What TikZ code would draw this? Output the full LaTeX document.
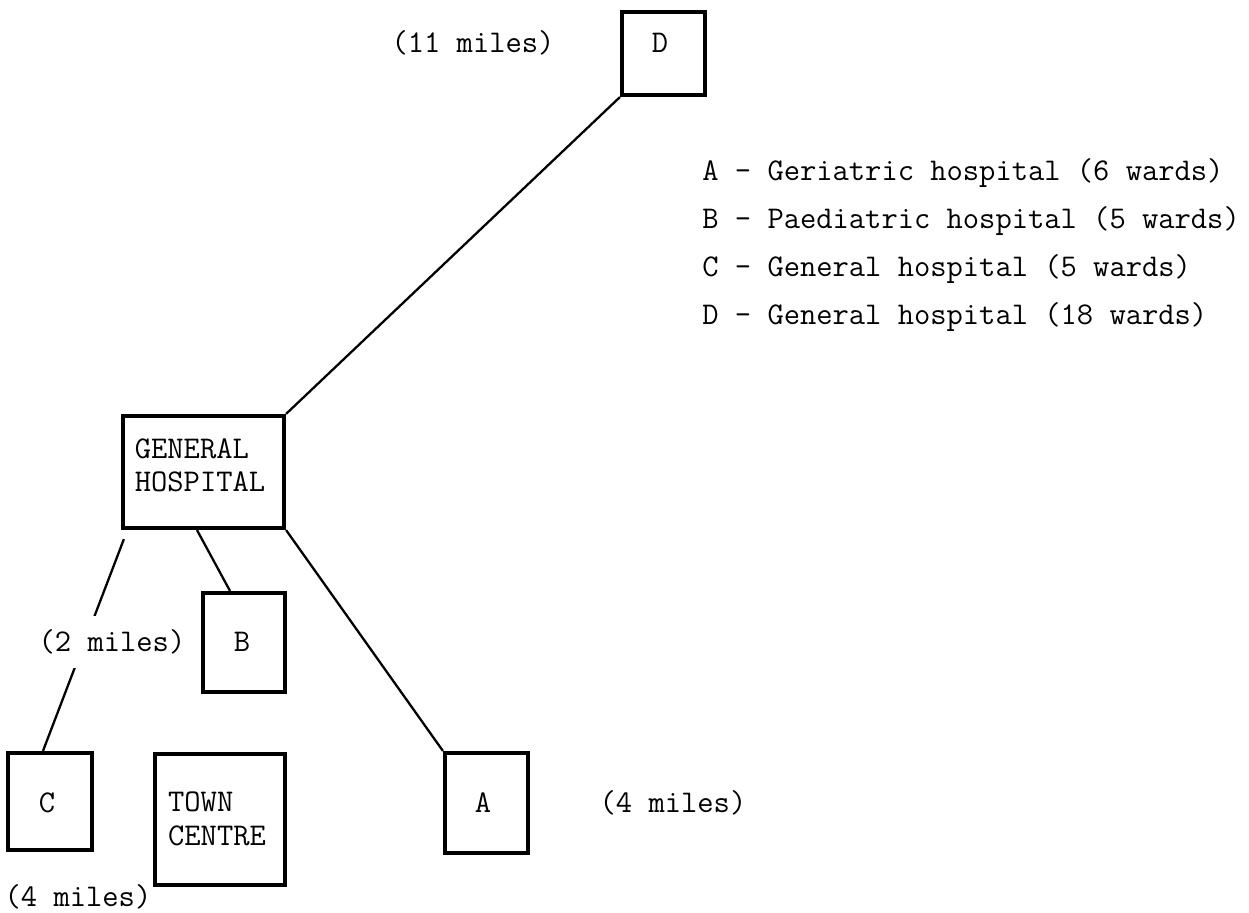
\documentclass[tikz,border=0pt]{standalone}
\usepackage{tikz}
\usetikzlibrary{positioning}

\begin{document}
\begin{tikzpicture}[
    x=0.02cm, y=-0.02cm,
    hosp/.style={draw, line width=2.4pt, inner sep=0pt},
    boxtext/.style={font=\ttfamily\fontsize{18}{19}\selectfont, align=left, inner sep=0pt},
    dist/.style={font=\ttfamily\fontsize{18}{19}\selectfont, fill=white, inner xsep=2pt, inner ysep=8pt},
    key/.style={font=\ttfamily\fontsize{18}{19}\selectfont, anchor=west, inner sep=0pt},
    road/.style={line width=1.3pt},
]
\useasboundingbox (0,0) rectangle (1249,913);
% hospitals and town
\node[hosp, minimum width=1.66cm, minimum height=1.66cm] (hD) at (663.5,53.5) {};
\node[hosp, minimum width=3.22cm, minimum height=2.24cm] (gh) at (203.5,472) {};
\node[hosp, minimum width=1.64cm, minimum height=1.98cm] (hB) at (244,642.5) {};
\node[hosp, minimum width=1.68cm, minimum height=1.94cm] (hC) at (50,801.5) {};
\node[hosp, minimum width=2.60cm, minimum height=2.62cm] (town) at (220,819.5) {};
\node[hosp, minimum width=1.66cm, minimum height=2.00cm] (hA) at (486.5,803) {};
\node[boxtext] (tD) at (660,43) {D};
\node[boxtext] (tgh) at (200,465) {GENERAL\\HOSPITAL};
\node[boxtext] (tB) at (242,642) {B};
\node[boxtext] (tC) at (47,803) {C};
\node[boxtext] (ttown) at (217,819) {TOWN\\CENTRE};
\node[boxtext] (tA) at (483,803) {A};
% roads
\draw[road] (gh.north east) -- (hD.south west);
\draw[road] ([xshift=-0.13cm]gh.south) -- ([xshift=-0.28cm]hB.north);
\draw[road] (gh.south east) -- (hA.north west);
\draw[road] ([xshift=0.06cm,yshift=-0.18cm]gh.south west) -- ([xshift=-0.14cm]hC.north);
% distances
\node[dist] (d11) at (473,43) {(11 miles)};
\node[dist] (d2) at (112,642) {(2 miles)};
\node[dist] (d4a) at (673,803) {(4 miles)};
\node[dist, fill=none] (d4c) at (78,897) {(4 miles)};
% key
\node[key] (keyA) at (702,173) {A \textendash{} Geriatric hospital (6 wards)};
\node[key] (keyB) at (702,221) {B \textendash{} Paediatric hospital (5 wards)};
\node[key] (keyC) at (702,269) {C \textendash{} General hospital (5 wards)};
\node[key] (keyD) at (702,317) {D \textendash{} General hospital (18 wards)};
\end{tikzpicture}
\end{document}
